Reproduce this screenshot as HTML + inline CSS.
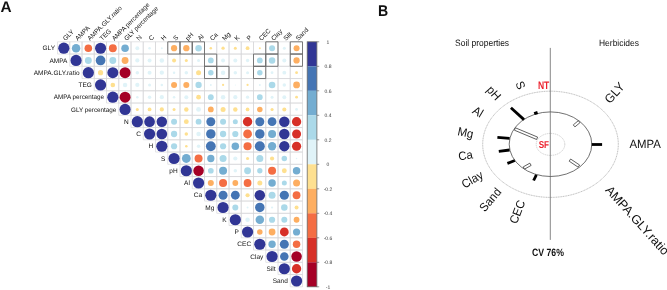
<!DOCTYPE html>
<html><head><meta charset="utf-8"><style>
html,body{margin:0;padding:0;background:#fff;}
body{width:667px;height:290px;overflow:hidden;}
svg{display:block;will-change:transform;text-rendering:geometricPrecision;}
.cl{font-family:"Liberation Sans",sans-serif;fill-opacity:1;}
.cl{fill:#111;}
</style></head><body>
<svg width="667" height="290" viewBox="0 0 667 290">
<path d="M57.50 41.80h12.25v12.25h-12.25zM69.75 41.80h12.25v12.25h-12.25zM82.00 41.80h12.25v12.25h-12.25zM94.25 41.80h12.25v12.25h-12.25zM106.50 41.80h12.25v12.25h-12.25zM118.75 41.80h12.25v12.25h-12.25zM131.00 41.80h12.25v12.25h-12.25zM143.25 41.80h12.25v12.25h-12.25zM155.50 41.80h12.25v12.25h-12.25zM167.75 41.80h12.25v12.25h-12.25zM180.00 41.80h12.25v12.25h-12.25zM192.25 41.80h12.25v12.25h-12.25zM204.50 41.80h12.25v12.25h-12.25zM216.75 41.80h12.25v12.25h-12.25zM229.00 41.80h12.25v12.25h-12.25zM241.25 41.80h12.25v12.25h-12.25zM253.50 41.80h12.25v12.25h-12.25zM265.75 41.80h12.25v12.25h-12.25zM278.00 41.80h12.25v12.25h-12.25zM290.25 41.80h12.25v12.25h-12.25zM69.75 54.05h12.25v12.25h-12.25zM82.00 54.05h12.25v12.25h-12.25zM94.25 54.05h12.25v12.25h-12.25zM106.50 54.05h12.25v12.25h-12.25zM118.75 54.05h12.25v12.25h-12.25zM131.00 54.05h12.25v12.25h-12.25zM143.25 54.05h12.25v12.25h-12.25zM155.50 54.05h12.25v12.25h-12.25zM167.75 54.05h12.25v12.25h-12.25zM180.00 54.05h12.25v12.25h-12.25zM192.25 54.05h12.25v12.25h-12.25zM204.50 54.05h12.25v12.25h-12.25zM216.75 54.05h12.25v12.25h-12.25zM229.00 54.05h12.25v12.25h-12.25zM241.25 54.05h12.25v12.25h-12.25zM253.50 54.05h12.25v12.25h-12.25zM265.75 54.05h12.25v12.25h-12.25zM278.00 54.05h12.25v12.25h-12.25zM290.25 54.05h12.25v12.25h-12.25zM82.00 66.30h12.25v12.25h-12.25zM94.25 66.30h12.25v12.25h-12.25zM106.50 66.30h12.25v12.25h-12.25zM118.75 66.30h12.25v12.25h-12.25zM131.00 66.30h12.25v12.25h-12.25zM143.25 66.30h12.25v12.25h-12.25zM155.50 66.30h12.25v12.25h-12.25zM167.75 66.30h12.25v12.25h-12.25zM180.00 66.30h12.25v12.25h-12.25zM192.25 66.30h12.25v12.25h-12.25zM204.50 66.30h12.25v12.25h-12.25zM216.75 66.30h12.25v12.25h-12.25zM229.00 66.30h12.25v12.25h-12.25zM241.25 66.30h12.25v12.25h-12.25zM253.50 66.30h12.25v12.25h-12.25zM265.75 66.30h12.25v12.25h-12.25zM278.00 66.30h12.25v12.25h-12.25zM290.25 66.30h12.25v12.25h-12.25zM94.25 78.55h12.25v12.25h-12.25zM106.50 78.55h12.25v12.25h-12.25zM118.75 78.55h12.25v12.25h-12.25zM131.00 78.55h12.25v12.25h-12.25zM143.25 78.55h12.25v12.25h-12.25zM155.50 78.55h12.25v12.25h-12.25zM167.75 78.55h12.25v12.25h-12.25zM180.00 78.55h12.25v12.25h-12.25zM192.25 78.55h12.25v12.25h-12.25zM204.50 78.55h12.25v12.25h-12.25zM216.75 78.55h12.25v12.25h-12.25zM229.00 78.55h12.25v12.25h-12.25zM241.25 78.55h12.25v12.25h-12.25zM253.50 78.55h12.25v12.25h-12.25zM265.75 78.55h12.25v12.25h-12.25zM278.00 78.55h12.25v12.25h-12.25zM290.25 78.55h12.25v12.25h-12.25zM106.50 90.80h12.25v12.25h-12.25zM118.75 90.80h12.25v12.25h-12.25zM131.00 90.80h12.25v12.25h-12.25zM143.25 90.80h12.25v12.25h-12.25zM155.50 90.80h12.25v12.25h-12.25zM167.75 90.80h12.25v12.25h-12.25zM180.00 90.80h12.25v12.25h-12.25zM192.25 90.80h12.25v12.25h-12.25zM204.50 90.80h12.25v12.25h-12.25zM216.75 90.80h12.25v12.25h-12.25zM229.00 90.80h12.25v12.25h-12.25zM241.25 90.80h12.25v12.25h-12.25zM253.50 90.80h12.25v12.25h-12.25zM265.75 90.80h12.25v12.25h-12.25zM278.00 90.80h12.25v12.25h-12.25zM290.25 90.80h12.25v12.25h-12.25zM118.75 103.05h12.25v12.25h-12.25zM131.00 103.05h12.25v12.25h-12.25zM143.25 103.05h12.25v12.25h-12.25zM155.50 103.05h12.25v12.25h-12.25zM167.75 103.05h12.25v12.25h-12.25zM180.00 103.05h12.25v12.25h-12.25zM192.25 103.05h12.25v12.25h-12.25zM204.50 103.05h12.25v12.25h-12.25zM216.75 103.05h12.25v12.25h-12.25zM229.00 103.05h12.25v12.25h-12.25zM241.25 103.05h12.25v12.25h-12.25zM253.50 103.05h12.25v12.25h-12.25zM265.75 103.05h12.25v12.25h-12.25zM278.00 103.05h12.25v12.25h-12.25zM290.25 103.05h12.25v12.25h-12.25zM131.00 115.30h12.25v12.25h-12.25zM143.25 115.30h12.25v12.25h-12.25zM155.50 115.30h12.25v12.25h-12.25zM167.75 115.30h12.25v12.25h-12.25zM180.00 115.30h12.25v12.25h-12.25zM192.25 115.30h12.25v12.25h-12.25zM204.50 115.30h12.25v12.25h-12.25zM216.75 115.30h12.25v12.25h-12.25zM229.00 115.30h12.25v12.25h-12.25zM241.25 115.30h12.25v12.25h-12.25zM253.50 115.30h12.25v12.25h-12.25zM265.75 115.30h12.25v12.25h-12.25zM278.00 115.30h12.25v12.25h-12.25zM290.25 115.30h12.25v12.25h-12.25zM143.25 127.55h12.25v12.25h-12.25zM155.50 127.55h12.25v12.25h-12.25zM167.75 127.55h12.25v12.25h-12.25zM180.00 127.55h12.25v12.25h-12.25zM192.25 127.55h12.25v12.25h-12.25zM204.50 127.55h12.25v12.25h-12.25zM216.75 127.55h12.25v12.25h-12.25zM229.00 127.55h12.25v12.25h-12.25zM241.25 127.55h12.25v12.25h-12.25zM253.50 127.55h12.25v12.25h-12.25zM265.75 127.55h12.25v12.25h-12.25zM278.00 127.55h12.25v12.25h-12.25zM290.25 127.55h12.25v12.25h-12.25zM155.50 139.80h12.25v12.25h-12.25zM167.75 139.80h12.25v12.25h-12.25zM180.00 139.80h12.25v12.25h-12.25zM192.25 139.80h12.25v12.25h-12.25zM204.50 139.80h12.25v12.25h-12.25zM216.75 139.80h12.25v12.25h-12.25zM229.00 139.80h12.25v12.25h-12.25zM241.25 139.80h12.25v12.25h-12.25zM253.50 139.80h12.25v12.25h-12.25zM265.75 139.80h12.25v12.25h-12.25zM278.00 139.80h12.25v12.25h-12.25zM290.25 139.80h12.25v12.25h-12.25zM167.75 152.05h12.25v12.25h-12.25zM180.00 152.05h12.25v12.25h-12.25zM192.25 152.05h12.25v12.25h-12.25zM204.50 152.05h12.25v12.25h-12.25zM216.75 152.05h12.25v12.25h-12.25zM229.00 152.05h12.25v12.25h-12.25zM241.25 152.05h12.25v12.25h-12.25zM253.50 152.05h12.25v12.25h-12.25zM265.75 152.05h12.25v12.25h-12.25zM278.00 152.05h12.25v12.25h-12.25zM290.25 152.05h12.25v12.25h-12.25zM180.00 164.30h12.25v12.25h-12.25zM192.25 164.30h12.25v12.25h-12.25zM204.50 164.30h12.25v12.25h-12.25zM216.75 164.30h12.25v12.25h-12.25zM229.00 164.30h12.25v12.25h-12.25zM241.25 164.30h12.25v12.25h-12.25zM253.50 164.30h12.25v12.25h-12.25zM265.75 164.30h12.25v12.25h-12.25zM278.00 164.30h12.25v12.25h-12.25zM290.25 164.30h12.25v12.25h-12.25zM192.25 176.55h12.25v12.25h-12.25zM204.50 176.55h12.25v12.25h-12.25zM216.75 176.55h12.25v12.25h-12.25zM229.00 176.55h12.25v12.25h-12.25zM241.25 176.55h12.25v12.25h-12.25zM253.50 176.55h12.25v12.25h-12.25zM265.75 176.55h12.25v12.25h-12.25zM278.00 176.55h12.25v12.25h-12.25zM290.25 176.55h12.25v12.25h-12.25zM204.50 188.80h12.25v12.25h-12.25zM216.75 188.80h12.25v12.25h-12.25zM229.00 188.80h12.25v12.25h-12.25zM241.25 188.80h12.25v12.25h-12.25zM253.50 188.80h12.25v12.25h-12.25zM265.75 188.80h12.25v12.25h-12.25zM278.00 188.80h12.25v12.25h-12.25zM290.25 188.80h12.25v12.25h-12.25zM216.75 201.05h12.25v12.25h-12.25zM229.00 201.05h12.25v12.25h-12.25zM241.25 201.05h12.25v12.25h-12.25zM253.50 201.05h12.25v12.25h-12.25zM265.75 201.05h12.25v12.25h-12.25zM278.00 201.05h12.25v12.25h-12.25zM290.25 201.05h12.25v12.25h-12.25zM229.00 213.30h12.25v12.25h-12.25zM241.25 213.30h12.25v12.25h-12.25zM253.50 213.30h12.25v12.25h-12.25zM265.75 213.30h12.25v12.25h-12.25zM278.00 213.30h12.25v12.25h-12.25zM290.25 213.30h12.25v12.25h-12.25zM241.25 225.55h12.25v12.25h-12.25zM253.50 225.55h12.25v12.25h-12.25zM265.75 225.55h12.25v12.25h-12.25zM278.00 225.55h12.25v12.25h-12.25zM290.25 225.55h12.25v12.25h-12.25zM253.50 237.80h12.25v12.25h-12.25zM265.75 237.80h12.25v12.25h-12.25zM278.00 237.80h12.25v12.25h-12.25zM290.25 237.80h12.25v12.25h-12.25zM265.75 250.05h12.25v12.25h-12.25zM278.00 250.05h12.25v12.25h-12.25zM290.25 250.05h12.25v12.25h-12.25zM278.00 262.30h12.25v12.25h-12.25zM290.25 262.30h12.25v12.25h-12.25zM290.25 274.55h12.25v12.25h-12.25z" fill="none" stroke="#d5d5d9" stroke-width="0.65"/>
<circle cx="63.83" cy="48.22" r="5.60" fill="#313695"/>
<circle cx="76.08" cy="48.22" r="4.25" fill="#74ADD1"/>
<circle cx="88.33" cy="48.22" r="3.80" fill="#F46D43"/>
<circle cx="100.58" cy="48.22" r="5.55" fill="#313695"/>
<circle cx="112.83" cy="48.22" r="3.95" fill="#F46D43"/>
<circle cx="125.08" cy="48.22" r="3.80" fill="#74ADD1"/>
<circle cx="137.32" cy="48.22" r="1.95" fill="#E0F3F8"/>
<circle cx="149.57" cy="48.22" r="1.25" fill="#E0F3F8"/>
<circle cx="161.82" cy="48.22" r="1.00" fill="#E0F3F8"/>
<circle cx="174.07" cy="48.22" r="3.10" fill="#FDAE61"/>
<circle cx="186.32" cy="48.22" r="3.15" fill="#FDAE61"/>
<circle cx="198.57" cy="48.22" r="3.25" fill="#ABD9E9"/>
<circle cx="210.82" cy="48.22" r="1.25" fill="#FEE090"/>
<circle cx="223.07" cy="48.22" r="1.65" fill="#FEE090"/>
<circle cx="235.32" cy="48.22" r="1.50" fill="#FEE090"/>
<circle cx="247.57" cy="48.22" r="1.90" fill="#FEE090"/>
<circle cx="259.82" cy="48.22" r="1.00" fill="#FEE090"/>
<circle cx="272.07" cy="48.22" r="3.00" fill="#ABD9E9"/>
<circle cx="284.32" cy="48.22" r="1.50" fill="#E0F3F8"/>
<circle cx="296.57" cy="48.22" r="3.00" fill="#FDAE61"/>
<circle cx="76.08" cy="60.47" r="5.60" fill="#313695"/>
<circle cx="88.33" cy="60.47" r="3.45" fill="#ABD9E9"/>
<circle cx="100.58" cy="60.47" r="4.85" fill="#4575B4"/>
<circle cx="112.83" cy="60.47" r="3.45" fill="#ABD9E9"/>
<circle cx="125.08" cy="60.47" r="3.45" fill="#FDAE61"/>
<circle cx="137.32" cy="60.47" r="2.10" fill="#E0F3F8"/>
<circle cx="149.57" cy="60.47" r="2.00" fill="#E0F3F8"/>
<circle cx="161.82" cy="60.47" r="2.25" fill="#E0F3F8"/>
<circle cx="174.07" cy="60.47" r="2.00" fill="#FEE090"/>
<circle cx="186.32" cy="60.47" r="1.50" fill="#FEE090"/>
<circle cx="198.57" cy="60.47" r="1.50" fill="#E0F3F8"/>
<circle cx="210.82" cy="60.47" r="2.90" fill="#ABD9E9"/>
<circle cx="223.07" cy="60.47" r="2.00" fill="#E0F3F8"/>
<circle cx="235.32" cy="60.47" r="2.00" fill="#E0F3F8"/>
<circle cx="247.57" cy="60.47" r="1.70" fill="#E0F3F8"/>
<circle cx="259.82" cy="60.47" r="2.90" fill="#ABD9E9"/>
<circle cx="272.07" cy="60.47" r="3.25" fill="#ABD9E9"/>
<circle cx="284.32" cy="60.47" r="2.00" fill="#E0F3F8"/>
<circle cx="296.57" cy="60.47" r="3.15" fill="#FDAE61"/>
<circle cx="88.33" cy="72.72" r="5.60" fill="#313695"/>
<circle cx="100.58" cy="72.72" r="2.60" fill="#FEE090"/>
<circle cx="112.83" cy="72.72" r="5.50" fill="#313695"/>
<circle cx="125.08" cy="72.72" r="5.50" fill="#A50026"/>
<circle cx="137.32" cy="72.72" r="1.75" fill="#E0F3F8"/>
<circle cx="149.57" cy="72.72" r="2.00" fill="#E0F3F8"/>
<circle cx="161.82" cy="72.72" r="2.15" fill="#E0F3F8"/>
<circle cx="174.07" cy="72.72" r="1.25" fill="#E0F3F8"/>
<circle cx="186.32" cy="72.72" r="1.75" fill="#E0F3F8"/>
<circle cx="198.57" cy="72.72" r="2.50" fill="#FEE090"/>
<circle cx="210.82" cy="72.72" r="2.75" fill="#ABD9E9"/>
<circle cx="223.07" cy="72.72" r="2.25" fill="#E0F3F8"/>
<circle cx="235.32" cy="72.72" r="1.75" fill="#E0F3F8"/>
<circle cx="247.57" cy="72.72" r="1.50" fill="#E0F3F8"/>
<circle cx="259.82" cy="72.72" r="2.75" fill="#ABD9E9"/>
<circle cx="272.07" cy="72.72" r="1.40" fill="#E0F3F8"/>
<circle cx="284.32" cy="72.72" r="1.90" fill="#E0F3F8"/>
<circle cx="296.57" cy="72.72" r="1.40" fill="#FEE090"/>
<circle cx="100.58" cy="84.97" r="5.60" fill="#313695"/>
<circle cx="112.83" cy="84.97" r="2.30" fill="#FEE090"/>
<circle cx="125.08" cy="84.97" r="2.25" fill="#E0F3F8"/>
<circle cx="137.32" cy="84.97" r="2.10" fill="#E0F3F8"/>
<circle cx="149.57" cy="84.97" r="1.50" fill="#E0F3F8"/>
<circle cx="161.82" cy="84.97" r="1.25" fill="#E0F3F8"/>
<circle cx="174.07" cy="84.97" r="3.00" fill="#FDAE61"/>
<circle cx="186.32" cy="84.97" r="3.00" fill="#FDAE61"/>
<circle cx="198.57" cy="84.97" r="3.15" fill="#ABD9E9"/>
<circle cx="210.82" cy="84.97" r="1.00" fill="#E0F3F8"/>
<circle cx="223.07" cy="84.97" r="1.10" fill="#FEE090"/>
<circle cx="235.32" cy="84.97" r="0.50" fill="#E0F3F8"/>
<circle cx="247.57" cy="84.97" r="1.10" fill="#FEE090"/>
<circle cx="259.82" cy="84.97" r="1.00" fill="#E0F3F8"/>
<circle cx="272.07" cy="84.97" r="3.30" fill="#ABD9E9"/>
<circle cx="284.32" cy="84.97" r="1.75" fill="#E0F3F8"/>
<circle cx="296.57" cy="84.97" r="3.40" fill="#FDAE61"/>
<circle cx="112.83" cy="97.22" r="5.60" fill="#313695"/>
<circle cx="125.08" cy="97.22" r="5.50" fill="#A50026"/>
<circle cx="137.32" cy="97.22" r="1.25" fill="#E0F3F8"/>
<circle cx="149.57" cy="97.22" r="1.75" fill="#E0F3F8"/>
<circle cx="161.82" cy="97.22" r="2.10" fill="#E0F3F8"/>
<circle cx="174.07" cy="97.22" r="1.25" fill="#E0F3F8"/>
<circle cx="186.32" cy="97.22" r="2.00" fill="#E0F3F8"/>
<circle cx="198.57" cy="97.22" r="2.40" fill="#FEE090"/>
<circle cx="210.82" cy="97.22" r="2.90" fill="#ABD9E9"/>
<circle cx="223.07" cy="97.22" r="2.25" fill="#E0F3F8"/>
<circle cx="235.32" cy="97.22" r="2.10" fill="#E0F3F8"/>
<circle cx="247.57" cy="97.22" r="1.65" fill="#E0F3F8"/>
<circle cx="259.82" cy="97.22" r="2.85" fill="#ABD9E9"/>
<circle cx="272.07" cy="97.22" r="1.50" fill="#E0F3F8"/>
<circle cx="284.32" cy="97.22" r="1.95" fill="#E0F3F8"/>
<circle cx="296.57" cy="97.22" r="1.40" fill="#FEE090"/>
<circle cx="125.08" cy="109.47" r="5.60" fill="#313695"/>
<circle cx="137.32" cy="109.47" r="1.50" fill="#FEE090"/>
<circle cx="149.57" cy="109.47" r="1.90" fill="#FEE090"/>
<circle cx="161.82" cy="109.47" r="2.10" fill="#FEE090"/>
<circle cx="174.07" cy="109.47" r="1.50" fill="#FEE090"/>
<circle cx="186.32" cy="109.47" r="2.25" fill="#FEE090"/>
<circle cx="198.57" cy="109.47" r="2.40" fill="#E0F3F8"/>
<circle cx="210.82" cy="109.47" r="2.90" fill="#FDAE61"/>
<circle cx="223.07" cy="109.47" r="2.50" fill="#FEE090"/>
<circle cx="235.32" cy="109.47" r="2.25" fill="#FEE090"/>
<circle cx="247.57" cy="109.47" r="1.85" fill="#FEE090"/>
<circle cx="259.82" cy="109.47" r="2.75" fill="#FDAE61"/>
<circle cx="272.07" cy="109.47" r="1.55" fill="#FEE090"/>
<circle cx="284.32" cy="109.47" r="2.05" fill="#FEE090"/>
<circle cx="296.57" cy="109.47" r="1.40" fill="#E0F3F8"/>
<circle cx="137.32" cy="121.72" r="5.60" fill="#313695"/>
<circle cx="149.57" cy="121.72" r="5.35" fill="#313695"/>
<circle cx="161.82" cy="121.72" r="5.25" fill="#313695"/>
<circle cx="174.07" cy="121.72" r="3.00" fill="#ABD9E9"/>
<circle cx="186.32" cy="121.72" r="2.40" fill="#FEE090"/>
<circle cx="198.57" cy="121.72" r="2.90" fill="#ABD9E9"/>
<circle cx="210.82" cy="121.72" r="4.50" fill="#4575B4"/>
<circle cx="223.07" cy="121.72" r="3.00" fill="#ABD9E9"/>
<circle cx="235.32" cy="121.72" r="2.50" fill="#ABD9E9"/>
<circle cx="247.57" cy="121.72" r="4.70" fill="#D73027"/>
<circle cx="259.82" cy="121.72" r="4.50" fill="#4575B4"/>
<circle cx="272.07" cy="121.72" r="4.40" fill="#4575B4"/>
<circle cx="284.32" cy="121.72" r="5.25" fill="#313695"/>
<circle cx="296.57" cy="121.72" r="4.65" fill="#D73027"/>
<circle cx="149.57" cy="133.98" r="5.60" fill="#313695"/>
<circle cx="161.82" cy="133.98" r="5.35" fill="#313695"/>
<circle cx="174.07" cy="133.98" r="3.15" fill="#ABD9E9"/>
<circle cx="186.32" cy="133.98" r="1.75" fill="#FEE090"/>
<circle cx="198.57" cy="133.98" r="2.25" fill="#E0F3F8"/>
<circle cx="210.82" cy="133.98" r="4.75" fill="#4575B4"/>
<circle cx="223.07" cy="133.98" r="3.15" fill="#ABD9E9"/>
<circle cx="235.32" cy="133.98" r="3.10" fill="#ABD9E9"/>
<circle cx="247.57" cy="133.98" r="4.40" fill="#F46D43"/>
<circle cx="259.82" cy="133.98" r="4.75" fill="#4575B4"/>
<circle cx="272.07" cy="133.98" r="4.00" fill="#74ADD1"/>
<circle cx="284.32" cy="133.98" r="5.25" fill="#313695"/>
<circle cx="296.57" cy="133.98" r="4.50" fill="#D73027"/>
<circle cx="161.82" cy="146.23" r="5.60" fill="#313695"/>
<circle cx="174.07" cy="146.23" r="3.10" fill="#ABD9E9"/>
<circle cx="186.32" cy="146.23" r="1.25" fill="#FEE090"/>
<circle cx="198.57" cy="146.23" r="1.75" fill="#E0F3F8"/>
<circle cx="210.82" cy="146.23" r="4.90" fill="#4575B4"/>
<circle cx="223.07" cy="146.23" r="3.10" fill="#ABD9E9"/>
<circle cx="235.32" cy="146.23" r="3.75" fill="#74ADD1"/>
<circle cx="247.57" cy="146.23" r="4.05" fill="#F46D43"/>
<circle cx="259.82" cy="146.23" r="5.00" fill="#4575B4"/>
<circle cx="272.07" cy="146.23" r="4.15" fill="#74ADD1"/>
<circle cx="284.32" cy="146.23" r="5.15" fill="#313695"/>
<circle cx="296.57" cy="146.23" r="4.60" fill="#D73027"/>
<circle cx="174.07" cy="158.48" r="5.60" fill="#313695"/>
<circle cx="186.32" cy="158.48" r="4.40" fill="#74ADD1"/>
<circle cx="198.57" cy="158.48" r="4.00" fill="#F46D43"/>
<circle cx="210.82" cy="158.48" r="3.65" fill="#74ADD1"/>
<circle cx="223.07" cy="158.48" r="3.50" fill="#ABD9E9"/>
<circle cx="235.32" cy="158.48" r="2.10" fill="#E0F3F8"/>
<circle cx="247.57" cy="158.48" r="1.55" fill="#FEE090"/>
<circle cx="259.82" cy="158.48" r="3.50" fill="#ABD9E9"/>
<circle cx="272.07" cy="158.48" r="2.10" fill="#FEE090"/>
<circle cx="284.32" cy="158.48" r="2.75" fill="#ABD9E9"/>
<circle cx="296.57" cy="158.48" r="0.75" fill="#E0F3F8"/>
<circle cx="186.32" cy="170.73" r="5.60" fill="#313695"/>
<circle cx="198.57" cy="170.73" r="5.25" fill="#A50026"/>
<circle cx="210.82" cy="170.73" r="2.85" fill="#ABD9E9"/>
<circle cx="223.07" cy="170.73" r="4.00" fill="#74ADD1"/>
<circle cx="235.32" cy="170.73" r="1.75" fill="#E0F3F8"/>
<circle cx="247.57" cy="170.73" r="3.40" fill="#ABD9E9"/>
<circle cx="259.82" cy="170.73" r="2.65" fill="#ABD9E9"/>
<circle cx="272.07" cy="170.73" r="4.00" fill="#F46D43"/>
<circle cx="284.32" cy="170.73" r="2.40" fill="#FEE090"/>
<circle cx="296.57" cy="170.73" r="3.75" fill="#74ADD1"/>
<circle cx="198.57" cy="182.98" r="5.60" fill="#313695"/>
<circle cx="210.82" cy="182.98" r="3.00" fill="#FDAE61"/>
<circle cx="223.07" cy="182.98" r="4.00" fill="#F46D43"/>
<circle cx="235.32" cy="182.98" r="2.90" fill="#FDAE61"/>
<circle cx="247.57" cy="182.98" r="3.90" fill="#F46D43"/>
<circle cx="259.82" cy="182.98" r="2.50" fill="#FEE090"/>
<circle cx="272.07" cy="182.98" r="3.75" fill="#74ADD1"/>
<circle cx="284.32" cy="182.98" r="2.50" fill="#ABD9E9"/>
<circle cx="296.57" cy="182.98" r="3.50" fill="#FDAE61"/>
<circle cx="210.82" cy="195.23" r="5.60" fill="#313695"/>
<circle cx="223.07" cy="195.23" r="4.50" fill="#4575B4"/>
<circle cx="235.32" cy="195.23" r="4.40" fill="#4575B4"/>
<circle cx="247.57" cy="195.23" r="2.10" fill="#FEE090"/>
<circle cx="259.82" cy="195.23" r="5.25" fill="#313695"/>
<circle cx="272.07" cy="195.23" r="3.50" fill="#ABD9E9"/>
<circle cx="284.32" cy="195.23" r="4.60" fill="#4575B4"/>
<circle cx="296.57" cy="195.23" r="3.90" fill="#F46D43"/>
<circle cx="223.07" cy="207.48" r="5.60" fill="#313695"/>
<circle cx="235.32" cy="207.48" r="3.00" fill="#ABD9E9"/>
<circle cx="247.57" cy="207.48" r="1.00" fill="#E0F3F8"/>
<circle cx="259.82" cy="207.48" r="4.75" fill="#4575B4"/>
<circle cx="272.07" cy="207.48" r="1.10" fill="#E0F3F8"/>
<circle cx="284.32" cy="207.48" r="3.25" fill="#ABD9E9"/>
<circle cx="296.57" cy="207.48" r="2.00" fill="#FEE090"/>
<circle cx="235.32" cy="219.73" r="5.60" fill="#313695"/>
<circle cx="247.57" cy="219.73" r="2.25" fill="#E0F3F8"/>
<circle cx="259.82" cy="219.73" r="4.25" fill="#74ADD1"/>
<circle cx="272.07" cy="219.73" r="3.10" fill="#ABD9E9"/>
<circle cx="284.32" cy="219.73" r="3.00" fill="#ABD9E9"/>
<circle cx="296.57" cy="219.73" r="2.90" fill="#FDAE61"/>
<circle cx="247.57" cy="231.98" r="5.60" fill="#313695"/>
<circle cx="259.82" cy="231.98" r="2.75" fill="#FDAE61"/>
<circle cx="272.07" cy="231.98" r="3.40" fill="#FDAE61"/>
<circle cx="284.32" cy="231.98" r="4.40" fill="#D73027"/>
<circle cx="296.57" cy="231.98" r="3.60" fill="#74ADD1"/>
<circle cx="259.82" cy="244.23" r="5.60" fill="#313695"/>
<circle cx="272.07" cy="244.23" r="3.65" fill="#74ADD1"/>
<circle cx="284.32" cy="244.23" r="4.50" fill="#4575B4"/>
<circle cx="296.57" cy="244.23" r="3.75" fill="#F46D43"/>
<circle cx="272.07" cy="256.48" r="5.60" fill="#313695"/>
<circle cx="284.32" cy="256.48" r="4.25" fill="#4575B4"/>
<circle cx="296.57" cy="256.48" r="5.25" fill="#A50026"/>
<circle cx="284.32" cy="268.73" r="5.60" fill="#313695"/>
<circle cx="296.57" cy="268.73" r="4.65" fill="#D73027"/>
<circle cx="296.57" cy="280.98" r="5.60" fill="#313695"/>
<path d="M167.75 41.80h12.25v12.25h-12.25zM180.00 41.80h12.25v12.25h-12.25zM192.25 41.80h12.25v12.25h-12.25zM265.75 41.80h12.25v12.25h-12.25zM290.25 41.80h12.25v12.25h-12.25zM204.50 54.05h12.25v12.25h-12.25zM253.50 54.05h12.25v12.25h-12.25zM265.75 54.05h12.25v12.25h-12.25zM290.25 54.05h12.25v12.25h-12.25zM204.50 66.30h12.25v12.25h-12.25zM216.75 66.30h12.25v12.25h-12.25zM253.50 66.30h12.25v12.25h-12.25z" fill="none" stroke="#666" stroke-width="0.85"/>
<text transform="translate(55.10 50.27) scale(1.0 1)" text-anchor="end" font-size="6.5" class="cl">GLY</text>
<text transform="translate(67.35 62.52) scale(1.0 1)" text-anchor="end" font-size="6.5" class="cl">AMPA</text>
<text transform="translate(79.60 74.77) scale(1.0 1)" text-anchor="end" font-size="6.5" class="cl">AMPA.GLY.ratio</text>
<text transform="translate(91.85 87.02) scale(1.0 1)" text-anchor="end" font-size="6.5" class="cl">TEG</text>
<text transform="translate(104.10 99.27) scale(0.97 1)" text-anchor="end" font-size="6.5" class="cl">AMPA percentage</text>
<text transform="translate(116.35 111.52) scale(0.97 1)" text-anchor="end" font-size="6.5" class="cl">GLY percentage</text>
<text transform="translate(128.60 123.77) scale(1.0 1)" text-anchor="end" font-size="6.5" class="cl">N</text>
<text transform="translate(140.85 136.03) scale(1.0 1)" text-anchor="end" font-size="6.5" class="cl">C</text>
<text transform="translate(153.10 148.28) scale(1.0 1)" text-anchor="end" font-size="6.5" class="cl">H</text>
<text transform="translate(165.35 160.53) scale(1.0 1)" text-anchor="end" font-size="6.5" class="cl">S</text>
<text transform="translate(177.60 172.78) scale(1.0 1)" text-anchor="end" font-size="6.5" class="cl">pH</text>
<text transform="translate(189.85 185.03) scale(1.0 1)" text-anchor="end" font-size="6.5" class="cl">Al</text>
<text transform="translate(202.10 197.28) scale(1.0 1)" text-anchor="end" font-size="6.5" class="cl">Ca</text>
<text transform="translate(214.35 209.53) scale(1.0 1)" text-anchor="end" font-size="6.5" class="cl">Mg</text>
<text transform="translate(226.60 221.78) scale(1.0 1)" text-anchor="end" font-size="6.5" class="cl">K</text>
<text transform="translate(238.85 234.03) scale(1.0 1)" text-anchor="end" font-size="6.5" class="cl">P</text>
<text transform="translate(251.10 246.28) scale(1.0 1)" text-anchor="end" font-size="6.5" class="cl">CEC</text>
<text transform="translate(263.35 258.53) scale(1.0 1)" text-anchor="end" font-size="6.5" class="cl">Clay</text>
<text transform="translate(275.60 270.78) scale(1.0 1)" text-anchor="end" font-size="6.5" class="cl">Silt</text>
<text transform="translate(287.85 283.03) scale(1.0 1)" text-anchor="end" font-size="6.5" class="cl">Sand</text>
<text transform="translate(65.42 41.00) rotate(-45) scale(1.0 1)" font-size="6.5" class="cl">GLY</text>
<text transform="translate(77.67 41.00) rotate(-45) scale(1.0 1)" font-size="6.5" class="cl">AMPA</text>
<text transform="translate(89.92 41.00) rotate(-45) scale(1.0 1)" font-size="6.5" class="cl">AMPA.GLY.ratio</text>
<text transform="translate(102.17 41.00) rotate(-45) scale(1.0 1)" font-size="6.5" class="cl">TEG</text>
<text transform="translate(114.42 41.00) rotate(-45) scale(0.97 1)" font-size="6.5" class="cl">AMPA percentage</text>
<text transform="translate(126.67 41.00) rotate(-45) scale(0.97 1)" font-size="6.5" class="cl">GLY percentage</text>
<text transform="translate(138.93 41.00) rotate(-45) scale(1.0 1)" font-size="6.5" class="cl">N</text>
<text transform="translate(151.18 41.00) rotate(-45) scale(1.0 1)" font-size="6.5" class="cl">C</text>
<text transform="translate(163.43 41.00) rotate(-45) scale(1.0 1)" font-size="6.5" class="cl">H</text>
<text transform="translate(175.68 41.00) rotate(-45) scale(1.0 1)" font-size="6.5" class="cl">S</text>
<text transform="translate(187.93 41.00) rotate(-45) scale(1.0 1)" font-size="6.5" class="cl">pH</text>
<text transform="translate(200.18 41.00) rotate(-45) scale(1.0 1)" font-size="6.5" class="cl">Al</text>
<text transform="translate(212.43 41.00) rotate(-45) scale(1.0 1)" font-size="6.5" class="cl">Ca</text>
<text transform="translate(224.68 41.00) rotate(-45) scale(1.0 1)" font-size="6.5" class="cl">Mg</text>
<text transform="translate(236.93 41.00) rotate(-45) scale(1.0 1)" font-size="6.5" class="cl">K</text>
<text transform="translate(249.18 41.00) rotate(-45) scale(1.0 1)" font-size="6.5" class="cl">P</text>
<text transform="translate(261.43 41.00) rotate(-45) scale(1.0 1)" font-size="6.5" class="cl">CEC</text>
<text transform="translate(273.68 41.00) rotate(-45) scale(1.0 1)" font-size="6.5" class="cl">Clay</text>
<text transform="translate(285.93 41.00) rotate(-45) scale(1.0 1)" font-size="6.5" class="cl">Silt</text>
<text transform="translate(298.18 41.00) rotate(-45) scale(1.0 1)" font-size="6.5" class="cl">Sand</text>
<rect x="307.2" y="41.80" width="9.7" height="24.55" fill="#313695"/>
<rect x="307.2" y="66.30" width="9.7" height="24.55" fill="#4575B4"/>
<rect x="307.2" y="90.80" width="9.7" height="24.55" fill="#74ADD1"/>
<rect x="307.2" y="115.30" width="9.7" height="24.55" fill="#ABD9E9"/>
<rect x="307.2" y="139.80" width="9.7" height="24.55" fill="#E0F3F8"/>
<rect x="307.2" y="164.30" width="9.7" height="24.55" fill="#FEE090"/>
<rect x="307.2" y="188.80" width="9.7" height="24.55" fill="#FDAE61"/>
<rect x="307.2" y="213.30" width="9.7" height="24.55" fill="#F46D43"/>
<rect x="307.2" y="237.80" width="9.7" height="24.55" fill="#D73027"/>
<rect x="307.2" y="262.30" width="9.7" height="24.55" fill="#A50026"/>
<rect x="307.2" y="41.8" width="9.7" height="245.0" fill="none" stroke="#6a6a6a" stroke-width="0.8"/>
<line x1="316.9" y1="41.80" x2="319.2" y2="41.80" stroke="#555" stroke-width="0.6"/>
<text x="328.0" y="43.60" text-anchor="middle" font-size="5" class="cl" style="fill:#333">1</text>
<line x1="316.9" y1="66.30" x2="319.2" y2="66.30" stroke="#555" stroke-width="0.6"/>
<text x="328.0" y="68.10" text-anchor="middle" font-size="5" class="cl" style="fill:#333">0.8</text>
<line x1="316.9" y1="90.80" x2="319.2" y2="90.80" stroke="#555" stroke-width="0.6"/>
<text x="328.0" y="92.60" text-anchor="middle" font-size="5" class="cl" style="fill:#333">0.6</text>
<line x1="316.9" y1="115.30" x2="319.2" y2="115.30" stroke="#555" stroke-width="0.6"/>
<text x="328.0" y="117.10" text-anchor="middle" font-size="5" class="cl" style="fill:#333">0.4</text>
<line x1="316.9" y1="139.80" x2="319.2" y2="139.80" stroke="#555" stroke-width="0.6"/>
<text x="328.0" y="141.60" text-anchor="middle" font-size="5" class="cl" style="fill:#333">0.2</text>
<line x1="316.9" y1="164.30" x2="319.2" y2="164.30" stroke="#555" stroke-width="0.6"/>
<text x="328.0" y="166.10" text-anchor="middle" font-size="5" class="cl" style="fill:#333">0</text>
<line x1="316.9" y1="188.80" x2="319.2" y2="188.80" stroke="#555" stroke-width="0.6"/>
<text x="328.0" y="190.60" text-anchor="middle" font-size="5" class="cl" style="fill:#333">-0.2</text>
<line x1="316.9" y1="213.30" x2="319.2" y2="213.30" stroke="#555" stroke-width="0.6"/>
<text x="328.0" y="215.10" text-anchor="middle" font-size="5" class="cl" style="fill:#333">-0.4</text>
<line x1="316.9" y1="237.80" x2="319.2" y2="237.80" stroke="#555" stroke-width="0.6"/>
<text x="328.0" y="239.60" text-anchor="middle" font-size="5" class="cl" style="fill:#333">-0.6</text>
<line x1="316.9" y1="262.30" x2="319.2" y2="262.30" stroke="#555" stroke-width="0.6"/>
<text x="328.0" y="264.10" text-anchor="middle" font-size="5" class="cl" style="fill:#333">-0.8</text>
<line x1="316.9" y1="286.80" x2="319.2" y2="286.80" stroke="#555" stroke-width="0.6"/>
<text x="328.0" y="288.60" text-anchor="middle" font-size="5" class="cl" style="fill:#333">-1</text>
<text x="0.5" y="11.7" font-size="15.4" font-weight="bold" class="cl">A</text>
<text x="378.0" y="15.7" font-size="15.6" font-weight="bold" textLength="10.2" lengthAdjust="spacingAndGlyphs" class="cl">B</text>
<text x="455.1" y="45.7" font-size="9.3" textLength="54" lengthAdjust="spacingAndGlyphs" class="cl">Soil properties</text>
<text x="599" y="46.4" font-size="9" textLength="40" lengthAdjust="spacingAndGlyphs" class="cl">Herbicides</text>
<ellipse cx="550.5" cy="144.3" rx="67.8" ry="53.1" fill="none" stroke="#8c8c8c" stroke-width="0.6" stroke-dasharray="1.1 0.6"/>
<ellipse cx="550.5" cy="144.2" rx="41.3" ry="32.3" fill="none" stroke="#333" stroke-width="0.7"/>
<ellipse cx="550.5" cy="144.4" rx="14.3" ry="11" fill="none" stroke="#b4b4b4" stroke-width="0.6" stroke-dasharray="1.3 0.7"/>
<line x1="550.3" y1="47.9" x2="550.3" y2="239.9" stroke="#555" stroke-width="0.7"/>
<line x1="510.9" y1="107.8" x2="524" y2="119.6" stroke="#000" stroke-width="2.8"/>
<line x1="497.4" y1="137.4" x2="509.6" y2="138.4" stroke="#000" stroke-width="2.8"/>
<line x1="498.8" y1="151.3" x2="509.6" y2="150" stroke="#000" stroke-width="2.8"/>
<line x1="507.4" y1="163.4" x2="514.8" y2="160.5" stroke="#000" stroke-width="2.8"/>
<line x1="533.6" y1="180.5" x2="536.4" y2="174.8" stroke="#000" stroke-width="2.8"/>
<line x1="591.7" y1="144.5" x2="602.1" y2="144.5" stroke="#000" stroke-width="2.8"/>
<line x1="536.4" y1="114.5" x2="535.4" y2="111.6" stroke="#000" stroke-width="3.6"/>
<rect x="0" y="-1.3" width="24.07" height="2.6" fill="#fff" stroke="#333" stroke-width="0.7" transform="translate(514.9 129) rotate(22.73)"/>
<rect x="0" y="-1.3" width="6.53" height="2.6" fill="#fff" stroke="#333" stroke-width="0.7" transform="translate(579.1 121.7) rotate(139.97)"/>
<rect x="0" y="-1.3" width="10.82" height="2.6" fill="#fff" stroke="#333" stroke-width="0.7" transform="translate(569.9 160.1) rotate(33.69)"/>
<rect x="0" y="-1.3" width="7.57" height="2.6" fill="#fff" stroke="#333" stroke-width="0.7" transform="translate(523.9 168) rotate(-29.28)"/>
<text x="537.9" y="88.8" font-size="10.8" font-weight="bold" style="fill:#EC2430" textLength="11.4" lengthAdjust="spacingAndGlyphs" class="cl">NT</text>
<text x="538.7" y="147.9" font-size="10" font-weight="bold" style="fill:#EC2430" textLength="10.4" lengthAdjust="spacingAndGlyphs" class="cl">SF</text>
<text x="532" y="255.7" font-size="10.6" font-weight="bold" textLength="31.9" lengthAdjust="spacingAndGlyphs" class="cl">CV 76%</text>
<text transform="translate(520.7 85.1) rotate(68) scale(0.95 1)" text-anchor="middle" dy="0.36em" font-size="12" class="cl">S</text>
<text transform="translate(494 92.7) rotate(48) scale(0.95 1)" text-anchor="middle" dy="0.36em" font-size="12" class="cl">pH</text>
<text transform="translate(478 111.6) rotate(31) scale(0.95 1)" text-anchor="middle" dy="0.36em" font-size="12" class="cl">Al</text>
<text transform="translate(465.6 132.5) rotate(12) scale(0.95 1)" text-anchor="middle" dy="0.36em" font-size="12" class="cl">Mg</text>
<text transform="translate(465.5 155.2) rotate(-9) scale(0.95 1)" text-anchor="middle" dy="0.36em" font-size="12" class="cl">Ca</text>
<text transform="translate(472.2 179.3) rotate(-30) scale(0.95 1)" text-anchor="middle" dy="0.36em" font-size="12" class="cl">Clay</text>
<text transform="translate(490.1 199.6) rotate(-50) scale(0.95 1)" text-anchor="middle" dy="0.36em" font-size="12" class="cl">Sand</text>
<text transform="translate(517.1 211.8) rotate(-69) scale(0.95 1)" text-anchor="middle" dy="0.36em" font-size="12" class="cl">CEC</text>
<text transform="translate(614.3 92.7) rotate(-48) scale(0.95 1)" text-anchor="middle" dy="0.36em" font-size="12.5" class="cl">GLY</text>
<text transform="translate(645.2 143.5) rotate(0) scale(0.95 1)" text-anchor="middle" dy="0.36em" font-size="12" class="cl">AMPA</text>
<text transform="translate(637.5 220.2) rotate(48) scale(1.0 1)" text-anchor="middle" dy="0.36em" font-size="12.5" class="cl">AMPA.GLY.ratio</text>
</svg>
</body></html>
